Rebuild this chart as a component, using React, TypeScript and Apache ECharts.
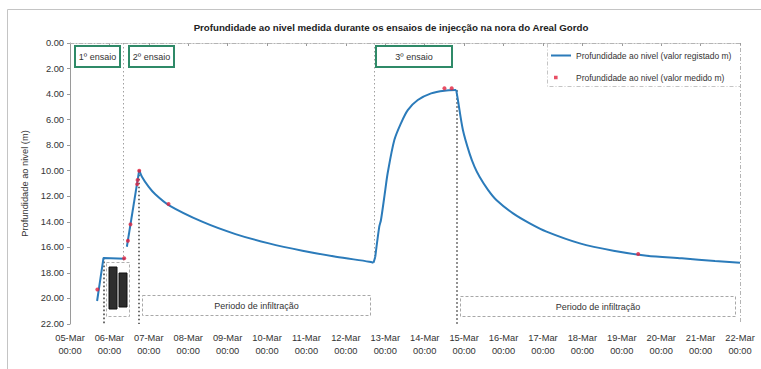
import React, { useEffect, useRef } from "react";
import * as echarts from "echarts";

const chartTitle =
  "Profundidade ao nivel medida durante os ensaios de injecção na nora do Areal Gordo";
const recordedName = "Profundidade ao nivel (valor registado m)";
const measuredName = "Profundidade ao nivel (valor medido m)";
const yAxisName = "Profundidade ao nivel (m)";

// Times are "DD HH:MM" in March; depths in metres below the rim.
// 1st injection test
const test1Time = ["05 16:30", "05 20:24", "06 09:36"];
const test1Depth = [20.2, 16.83, 16.9];

// 2nd injection test and its recovery (infiltration) period
const test2Time = [
  "06 10:38", "06 18:09", "06 19:48", "06 23:50", "07 03:55", "07 12:03", "08 08:27",
  "09 04:47", "10 01:08", "10 21:32", "11 17:52", "12 14:13", "12 16:48",
];
const test2Depth = [
  15.95, 9.95, 10.47, 11.25, 11.85, 12.69, 13.99,
  14.96, 15.69, 16.26, 16.73, 17.12, 17.2,
];

// 3rd injection test and its recovery (infiltration) period
const test3Time = [
  "12 17:53", "12 20:20", "12 21:22", "13 00:00", "13 01:26", "13 05:30", "13 09:35",
  "13 13:41", "13 19:47", "14 03:54", "14 12:00", "14 19:12", "14 20:13",
  "14 23:16", "15 03:17", "15 06:22", "15 09:24", "15 14:32", "15 19:37",
  "16 05:48", "16 15:58", "17 02:10", "17 22:29", "18 18:53", "19 15:14",
  "20 12:36", "21 08:46", "22 00:00",
];
const test3Depth = [
  16.75, 14.38, 13.86, 11.5, 10.2, 7.6, 6.27,
  5.25, 4.46, 3.94, 3.73, 3.68, 4.46,
  6.81, 8.64, 9.7, 10.47, 11.5, 12.29,
  13.34, 14.12, 14.77, 15.69, 16.26, 16.65,
  16.86, 17.07, 17.2,
];

// Manual measurements
const measuredTime = [
  "05 16:41", "06 09:00", "06 11:16", "06 12:50", "06 16:55", "06 17:10",
  "06 18:09", "07 12:00", "14 12:00", "14 16:26", "19 10:00",
];
const measuredDepth = [19.3, 16.85, 15.48, 14.2, 11.05, 10.73, 10.0, 12.6, 3.55, 3.55, 16.52];

// Test start (grey) and end (dark) markers: time, depth from, depth to
const startMarkTime = ["06 08:22", "12 17:03"];
const startMarkTo = [17.1, 17.2];
const endMarkTime = ["05 20:28", "06 18:09", "14 19:48"];
const endMarkFrom = [16.8, 10.0, 3.7];

const dayLabels = [
  "05-Mar", "06-Mar", "07-Mar", "08-Mar", "09-Mar", "10-Mar", "11-Mar", "12-Mar", "13-Mar",
  "14-Mar", "15-Mar", "16-Mar", "17-Mar", "18-Mar", "19-Mar", "20-Mar", "21-Mar", "22-Mar",
];
const depthMin = 0;
const depthMax = 22;
const depthStep = 2;

const DAY = 86400000;
const toMs = (s: string) => {
  const [d, hm] = s.split(" ");
  const [h, m] = hm.split(":");
  return Date.UTC(2008, 2, Number(d), Number(h), Number(m));
};
const xMin = toMs("05 00:00");
const xMax = toMs("22 00:00");

const FONT = "'Liberation Sans', Arial, sans-serif";
const GREEN = "#2f8a68";
const LINE_BLUE = "#2b7bba";
const DOT_RED = "#e2233f";

// Legend glyphs: invisible slivers pin the 20x6 bounding box
const lineIcon = "path://M0,0h0.01v6h-0.01z M20,0h-0.01v6h0.01z M0,2h20v2h-20z";
const dotIcon = "path://M0,0h0.01v6h-0.01z M20,0h-0.01v6h0.01z M3,1.2h3.6v3.6h-3.6z";

export default function App() {
  const ref = useRef<HTMLDivElement>(null);

  useEffect(() => {
    if (!ref.current) return;
    const chart = echarts.init(ref.current, undefined, { renderer: "svg" });

    const pairs = (times: string[], depths: number[]) => times.map((t, i) => [toMs(t), depths[i]]);
    const measured = pairs(measuredTime, measuredDepth);

    const markData: any[] = [
      ...startMarkTime.map((t, i) => [
        { coord: [toMs(t), 0], lineStyle: { color: "#a0a0a0", width: 1, type: [1.5, 2.5] } },
        { coord: [toMs(t), startMarkTo[i]] },
      ]),
      ...endMarkTime.map((t, i) => [
        { coord: [toMs(t), endMarkFrom[i]], lineStyle: { color: "#4a4a4a", width: 1.6, type: [1.6, 2.4] } },
        { coord: [toMs(t), depthMax] },
      ]),
    ];

    const recordedSeries = (data: number[][], smooth: number, extra: any = {}) => ({
      name: recordedName,
      type: "line",
      data,
      symbol: "none",
      smooth,
      lineStyle: { color: LINE_BLUE, width: 2 },
      itemStyle: { color: LINE_BLUE },
      z: 3,
      ...extra,
    });

    const box = (x: number, y: number, w: number, h: number, stroke: string, lw: number, dash?: number[]) => ({
      type: "rect",
      shape: { x, y, width: w, height: h },
      style: { fill: "#fff", stroke, lineWidth: lw, lineDash: dash },
      z: 10,
    });
    const label = (x: number, y: number, text: string, size: number) => ({
      type: "text",
      x,
      y,
      style: { text, fill: "#333", font: `${size}px ${FONT}`, align: "center", verticalAlign: "middle" },
      z: 11,
    });

    const test2 = pairs(test2Time, test2Depth);
    const test3 = pairs(test3Time, test3Depth);

    chart.setOption({
      animation: false,
      backgroundColor: "#fff",
      title: {
        text: chartTitle,
        left: 386,
        top: 17,
        textAlign: "center",
        textStyle: { fontFamily: FONT, fontSize: 9.7, fontWeight: "bold", color: "#222" },
      },
      legend: {
        orient: "vertical",
        left: 546,
        top: 46,
        itemWidth: 20,
        itemHeight: 6,
        itemGap: 13,
        textStyle: { fontFamily: FONT, fontSize: 8.5, color: "#333" },
        data: [
          { name: recordedName, icon: lineIcon, itemStyle: { color: LINE_BLUE } },
          { name: measuredName, icon: dotIcon, itemStyle: { color: DOT_RED } },
        ],
        z: 12,
      },
      grid: { left: 70, top: 43, right: 21, bottom: 45 },
      xAxis: {
        type: "value",
        min: xMin,
        max: xMax,
        interval: DAY,
        splitLine: { show: false },
        axisLine: { lineStyle: { color: "#9a9a9a", type: [4, 2, 1, 2] } },
        axisTick: { length: 3, lineStyle: { color: "#9a9a9a" } },
        axisLabel: {
          fontFamily: FONT,
          fontSize: 9.3,
          color: "#333",
          lineHeight: 13,
          margin: 7,
          formatter: (v: number) => `${dayLabels[Math.round((v - xMin) / DAY)]}\n00:00`,
        },
      },
      yAxis: {
        type: "value",
        inverse: true,
        min: depthMin,
        max: depthMax,
        interval: depthStep,
        name: yAxisName,
        nameLocation: "middle",
        nameGap: 38,
        nameTextStyle: { fontFamily: FONT, fontSize: 9.3, color: "#333" },
        splitLine: { show: false },
        axisLine: { show: true, lineStyle: { color: "#9a9a9a" } },
        axisTick: { show: true, length: 3, lineStyle: { color: "#9a9a9a" } },
        axisLabel: {
          fontFamily: FONT,
          fontSize: 9.3,
          color: "#333",
          margin: 6,
          formatter: (v: number) => v.toFixed(2),
        },
      },
      series: [
        recordedSeries(pairs(test1Time, test1Depth), 0, {
          markLine: { symbol: "none", silent: true, label: { show: false }, data: markData, z: 2 },
        }),
        // straight rise of test 2, smooth recovery, step into test 3
        recordedSeries(test2.slice(0, 2), 0),
        recordedSeries(test2.slice(1), 0.3),
        recordedSeries([test2[test2.length - 1], test3[0]], 0),
        recordedSeries(test3.slice(0, 12), 0.3),
        recordedSeries(test3.slice(11), 0.3),
        {
          name: measuredName,
          type: "scatter",
          data: measured,
          symbol: "circle",
          symbolSize: 4,
          itemStyle: { color: DOT_RED },
          z: 4,
        },
      ],
      graphic: [
        // outer frame
        { type: "rect", shape: { x: 7.5, y: 9.5, width: 800, height: 400 }, style: { fill: "none", stroke: "#c4c4c4", lineWidth: 1 }, z: 0 },
        // plot border (top and right)
        { type: "polyline", shape: { points: [[70, 43.5], [740.5, 43.5], [740.5, 324]] }, style: { stroke: "#b4b4b4", lineWidth: 1, lineDash: [4, 2, 1, 2], fill: "none" }, z: 1 },
        // legend frame
        { type: "polyline", shape: { points: [[547.5, 43.5], [547.5, 86.5], [740.5, 86.5]] }, style: { stroke: "#c4c4c4", lineWidth: 1, lineDash: [4, 2, 1, 2], fill: "none" }, z: 1 },
        // test labels
        box(75, 46, 45, 21, GREEN, 2),
        label(97.5, 57, "1º ensaio", 9),
        box(129, 46, 45, 21, GREEN, 2),
        label(151.5, 57, "2º ensaio", 9),
        box(376, 46, 76, 21, GREEN, 2),
        label(414, 57, "3º ensaio", 9),
        // infiltration periods
        box(142.5, 295.5, 228, 20, "#a8a8a8", 1, [3, 2]),
        label(256.5, 305.5, "Periodo de infiltração", 9),
        box(460.5, 296.5, 275, 20, "#a8a8a8", 1, [3, 2]),
        label(598, 306.5, "Periodo de infiltração", 9),
        // instrument panel
        box(106.5, 262.5, 23, 54, "#b0b0b0", 1, [3, 2]),
        { type: "rect", shape: { x: 109, y: 267, width: 8, height: 42 }, style: { fill: "#2e2e2e", stroke: "#111", lineWidth: 1 }, z: 12 },
        { type: "rect", shape: { x: 119, y: 273, width: 8, height: 34 }, style: { fill: "#2e2e2e", stroke: "#111", lineWidth: 1 }, z: 12 },
      ],
    });

    return () => chart.dispose();
  }, []);

  return (
    <div
      ref={ref}
      style={{ position: "fixed", left: 0, top: 0, width: 761, height: 369, background: "#fff" }}
    />
  );
}
